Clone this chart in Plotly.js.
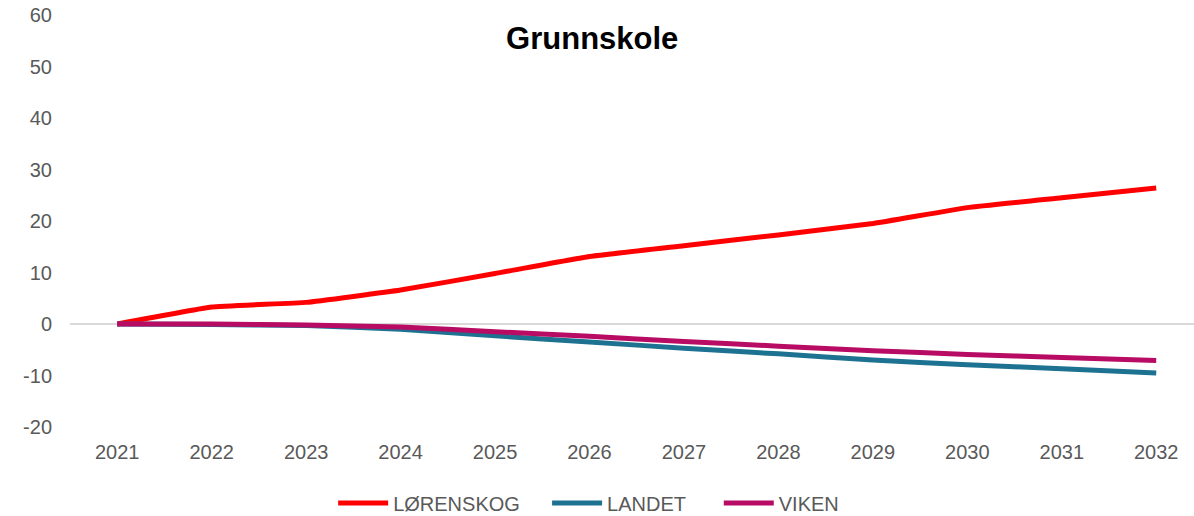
<!DOCTYPE html>
<html>
<head>
<meta charset="utf-8">
<script src="https://cdn.plot.ly/plotly-3.0.1.min.js"></script>
<style>
html,body{margin:0;padding:0;background:#fff;}
#chart{width:1194px;height:516px;}
</style>
</head>
<body>
<div id="chart"></div>
<script>
var years = ['2021','2022','2023','2024','2025','2026','2027','2028','2029','2030','2031','2032'];
var lorenskog = [0, 3.3, 4.2, 6.6, 9.8, 13.1, 15.2, 17.3, 19.5, 22.6, 24.5, 26.4];
var landet = [0, -0.1, -0.3, -1.0, -2.3, -3.5, -4.7, -5.8, -7.0, -7.9, -8.7, -9.5];
var viken = [0, 0, -0.2, -0.6, -1.5, -2.4, -3.4, -4.3, -5.2, -5.9, -6.5, -7.1];
var seriesNames = ['LØRENSKOG', 'LANDET', 'VIKEN'];
var yTicks = [-20, -10, 0, 10, 20, 30, 40, 50, 60];

var colors = ['#FF0000', '#1D7291', '#B80B63'];
var pads = ['\u00a0\u00a0\u00a0\u00a0', '\u00a0\u00a0\u00a0\u00a0\u00a0', ''];
var values = [lorenskog, landet, viken];
var traces = values.map(function(v, i){
  return {
    x: years, y: v, name: seriesNames[i] + pads[i], type: 'scatter', mode: 'lines',
    line: {color: colors[i], width: 5, shape: 'spline', smoothing: 0.3},
    hoverinfo: 'skip'
  };
});

var font = {family: 'Liberation Sans, Arial, sans-serif', size: 20, color: '#595959'};
var layout = {
  width: 1194, height: 516,
  margin: {l: 70, r: 0, t: 15, b: 89},
  paper_bgcolor: '#fff', plot_bgcolor: '#fff',
  font: font,
  title: {text: '<b>Grunnskole</b>', font: {family: 'Liberation Sans, Arial, sans-serif', size: 31, color: '#000'},
          x: 0.496, xanchor: 'center', y: 0.926, yanchor: 'middle', xref: 'container', yref: 'container'},
  xaxis: {type: 'category', range: [-0.5, 11.4], showgrid: false, zeroline: false, showline: false,
          ticks: '', tickfont: font, ticklabelstandoff: 11, fixedrange: true},
  yaxis: {range: [-20, 60], tickvals: yTicks, ticktext: yTicks.map(String), showgrid: false,
          zeroline: true, zerolinecolor: '#D9D9D9', zerolinewidth: 1.5, showline: false,
          ticks: '', tickfont: font, ticklabelstandoff: 17, fixedrange: true},
  showlegend: true,
  legend: {orientation: 'h', xref: 'container', yref: 'container', x: 0.493, xanchor: 'center',
           y: 0.025, yanchor: 'middle', font: font, itemwidth: 50, tracegroupgap: 0,
           bgcolor: 'rgba(0,0,0,0)'}
};

Plotly.newPlot('chart', traces, layout, {displayModeBar: false, staticPlot: true});
</script>
</body>
</html>
